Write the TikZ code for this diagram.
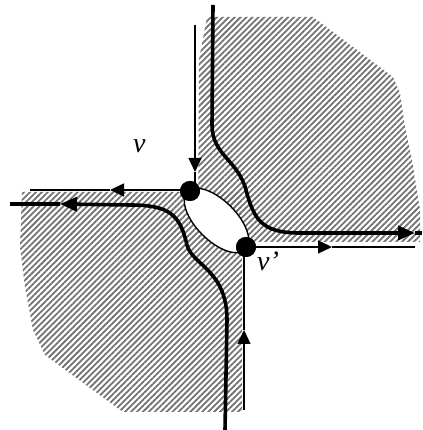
\documentclass[tikz,border=0pt]{standalone}
\usepackage{fontspec}
\setmainfont{Liberation Serif}
\usepackage{tikz}
\usetikzlibrary{arrows.meta}
\usetikzlibrary{patterns.meta}

\begin{document}
\begin{tikzpicture}[x=1pt, y=1pt,
    thinline/.style={line width=1.4pt, black},
    thickline/.style={line width=3.6pt, black},
    thintip/.style={-{Triangle[length=14pt, width=13pt]}},
    thicktip/.style={-{Triangle[length=17pt, width=14pt]}},
    hatch/.style={pattern={Lines[angle=45, distance=4.2pt, line width=1.8pt]}, pattern color=black!55},
    dot/.style={circle, fill=black, inner sep=0pt, minimum size=20pt},
    lbl/.style={inner sep=0pt, anchor=base west, font=\fontsize{28}{31}\selectfont\itshape}]

\useasboundingbox (0,0) rectangle (422,430);

% ===================== HATCHED REGIONS =====================
\fill[hatch] (207,413) -- (313,413) -- (393,353) -- (400,337) -- (405,303)
    -- (412,270) -- (420,220) -- (420,188) -- (198,188) -- (199,370) -- cycle;
\fill[hatch] (22,238) -- (242,238) -- (242,18) -- (123,18) -- (45,75)
    -- (33,100) -- (25,143) -- (20,183) -- cycle;

% ===================== CENTRAL OVAL =====================
\coordinate (lens) at (216.5,209.5);
\draw[thinline, fill=white, rotate around={-45:(lens)}] (lens) ellipse (41pt and 20pt);

% ===================== THICK CURVES =====================
\coordinate (topA) at (213,425);
\coordinate (tipA) at (415,197);
\coordinate (endA) at (422,197);
\draw[thickline, thicktip] (topA) -- (212,305)
    .. controls (212,275) and (238,270) .. (246,240)
    .. controls (254,210) and (262,197) .. (300,197) -- (tipA);
\draw[thickline] (tipA) -- (endA);

\coordinate (botB) at (225,0);
\coordinate (tipB) at (60,226);
\coordinate (endB) at (10,226);
\draw[thickline, thicktip] (botB) -- (227,110)
    .. controls (227,160) and (192,165) .. (187,185)
    .. controls (180,215) and (170,225) .. (130,225) -- (tipB);
\draw[thickline] (tipB) -- (endB);

% ===================== THIN EDGES =====================
\node[dot] (v) at (190,239) {};
\node[dot] (v2) at (246,183) {};

\coordinate (vtop) at (195,405);
\coordinate (atop) at (195,258);
\draw[thinline, thintip] (vtop) -- (atop);
\draw[thinline] (atop) -- (atop |- v.center);

\coordinate (aleft) at (110,240);
\coordinate (vleft) at (30,240);
\draw[thinline, thintip] (aleft -| v.center) -- (aleft);
\draw[thinline] (aleft) -- (vleft);

\coordinate (aright) at (332,183);
\coordinate (vright) at (415,183);
\draw[thinline, thintip] (v2.center) -- (aright);
\draw[thinline] (aright) -- (vright);

\coordinate (vbot) at (244,20);
\coordinate (abot) at (244,100);
\draw[thinline, thintip] (vbot) -- (abot);
\draw[thinline] (abot) -- (abot |- v2.center);

% vertices on top
\node[dot] at (v) {};
\node[dot] at (v2) {};

% ===================== LABELS =====================
\node[lbl] (lv) at (133,277) {v};
\node[lbl] (lv2) at (257,159) {v'};

\end{tikzpicture}
\end{document}
